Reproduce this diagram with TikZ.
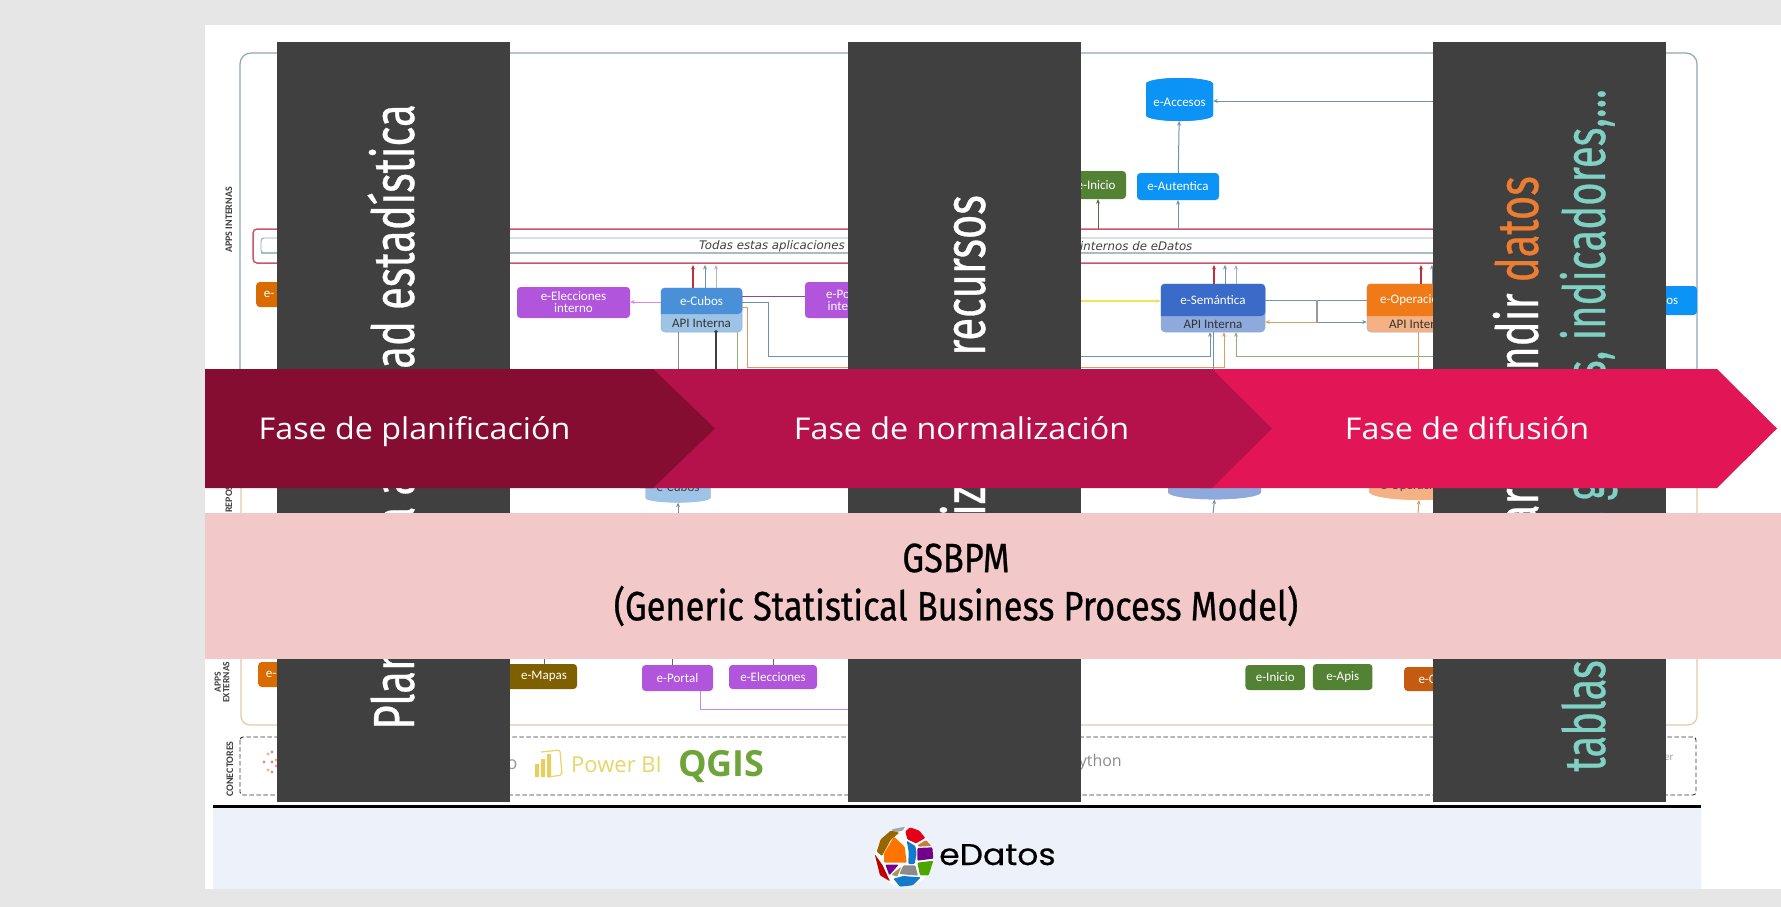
\documentclass[tikz,border=0pt]{standalone}
\usepackage{fontspec}
\usetikzlibrary{arrows.meta,shapes.geometric,calc}
\setmainfont{Carlito}
\newfontfamily\condf[FakeStretch=0.72,FakeBold=0.5]{Fira Sans}
\newfontfamily\tealf[FakeStretch=0.69,FakeBold=0.5]{Fira Sans}
\newfontfamily\bannerf[FakeStretch=0.84,FakeBold=0.6]{Fira Sans}
\newfontfamily\arrowf[FakeStretch=1.075]{Open Sans}
\newfontfamily\obliquef{DejaVu Sans}
\newfontfamily\logof[FakeStretch=1.1,FakeBold=0.4]{Poppins}
\newfontfamily\connf{Open Sans}
\newcommand{\fsz}[1]{\fontsize{#1}{#1}\selectfont}
\definecolor{pagegray}{HTML}{E6E6E6}
\definecolor{darkbar}{HTML}{404040}
\definecolor{frameblue}{HTML}{8CA6B8}
\definecolor{frameorange}{HTML}{E3C9A6}
\definecolor{redframe}{HTML}{C9566A}
\definecolor{innerline}{HTML}{8FAAB8}
\definecolor{innerthick}{HTML}{B3C8CC}
\definecolor{purplebox}{HTML}{B055DC}
\definecolor{skyblue}{HTML}{0B93F6}
\definecolor{greenbox}{HTML}{548235}
\definecolor{brownbox}{HTML}{7F6000}
\definecolor{orangebox}{HTML}{D96B00}
\definecolor{orangebox2}{HTML}{C55A11}
\definecolor{cubotop}{HTML}{4A90D9}
\definecolor{cubolow}{HTML}{9DC3E6}
\definecolor{semtop}{HTML}{3A6BC9}
\definecolor{semlow}{HTML}{8EA9DB}
\definecolor{optop}{HTML}{F07A18}
\definecolor{oplow}{HTML}{F4B183}
\definecolor{steel}{HTML}{6F93AD}
\definecolor{tan}{HTML}{D9A066}
\definecolor{olive}{HTML}{8FAE7A}
\definecolor{redarrow}{HTML}{C0303A}
\definecolor{pinkline}{HTML}{D98ADF}
\definecolor{yellowline}{HTML}{F2E25A}
\definecolor{palegray}{HTML}{B9B3B8}
\definecolor{slidefoot}{HTML}{EDF1F9}
\definecolor{arrowa}{HTML}{850D32}
\definecolor{arrowb}{HTML}{B5114A}
\definecolor{arrowc}{HTML}{E21556}
\definecolor{bannerpink}{HTML}{F2C8C8}
\definecolor{datosorange}{HTML}{ED7D31}
\definecolor{tealtext}{HTML}{7FD1C4}
\definecolor{powerbi}{HTML}{E8D56A}
\definecolor{qgisgreen}{HTML}{6FA43A}
\tikzset{
  appbox/.style={rectangle,rounded corners=3.5pt,inner sep=0pt,text=white,font=\fsz{13},align=center},
  apifill/.style={rectangle,rounded corners=4pt,inner sep=0pt,draw=steel!70,line width=0.5pt},
  whitetext/.style={inner sep=0pt,text=white,font=\fsz{13}},
  apitext/.style={inner sep=0pt,text=black!80,font=\fsz{13}},
  repotext/.style={inner sep=0pt,text=black!75,font=\fsz{13}},
  conn/.style={line width=1pt,-{Stealth[length=4.5pt,width=4pt]}},
  plainconn/.style={line width=1pt},
  sidelabel/.style={inner sep=0pt,rotate=90,text=black!75,font=\bfseries\fsz{10},align=center},
  darkbarbox/.style={rectangle,fill=darkbar,inner sep=0pt,minimum width=233,minimum height=760},
  barline/.style={inner sep=0pt,rotate=90,anchor=base east,text=white,font=\condf\fsz{58}},
  phase/.style={inner sep=0pt,anchor=base,text=white,font=\arrowf\fsz{30}},
  drum/.style={cylinder,shape border rotate=90,aspect=0.22,cylinder uses custom fill,inner sep=0pt},
}
\newcommand{\apibox}[9]{% name, cx, w, top, split, bottom, topcol, lowcol, label
  \pgfmathsetmacro{\bxh}{#6-#4}
  \pgfmathsetmacro{\bxc}{(#4+#6)/2}
  \pgfmathsetmacro{\bxa}{(#4+#5)/2}
  \pgfmathsetmacro{\bxb}{(#5+#6)/2}
  \node[apifill,fill=#8,minimum width=#3,minimum height=\bxh] (#1) at (#2,\bxc) {};
  \coordinate (#1split) at (#2,#5);
  \fill[#7,rounded corners=4pt] (#1.west |- #1split) -- (#1.north west) -- (#1.north east) -- (#1.east |- #1split) [sharp corners] -- cycle;
  \node[whitetext] (#1name) at (#2,\bxa) {#9};
  \node[apitext] (#1api) at (#2,\bxb) {API Interna};
}
\begin{document}
\begin{tikzpicture}[x=1pt,y=-1pt]
\useasboundingbox (0,0) rectangle (1781,907);
\fill[pagegray] (0,0) rectangle (1781,907);
\fill[white] (205,25) rectangle (1781,889);
\fill[slidefoot] (213,808) rectangle (1701,889);

% frames
\draw[frameorange,line width=1.2pt,rounded corners=9pt] (241,450) rectangle (1697,725);
\draw[frameblue,line width=1.2pt,rounded corners=11pt] (240,53) rectangle (1697,440);
\draw[redframe,line width=1.5pt,rounded corners=4pt] (253,229) rectangle (1500,263);
\draw[innerthick,line width=2.2pt,rounded corners=2pt] (261,253) -- (1500,253);
\draw[innerline,line width=0.9pt,rounded corners=3pt] (261,238) rectangle (1500,253);
\node[inner sep=0pt,anchor=east,font=\obliquef\itshape\fsz{11.8},text=black!75] (todas) at (845,246.5) {Todas estas aplicaciones};
\node[inner sep=0pt,anchor=west,font=\obliquef\itshape\fsz{11.8},text=black!75] (internos) at (1080,246.5) {internos de eDatos};

% side labels
\node[sidelabel] (lblint) at (229,220) {APPS INTERNAS};
\node[sidelabel,anchor=west] (lblrep) at (229,513) {REPOSITORIOS};
\node[sidelabel,anchor=west,font=\bfseries\fsz{9.5}] (lblext) at (222,703) {APPS\\[-1pt]EXTERNAS};
\node[sidelabel] (lblcon) at (230,769) {CONECTORES};

% top apps
\node[drum,fill=skyblue,cylinder body fill=skyblue,cylinder end fill=skyblue!85!black,minimum width=67,minimum height=43,whitetext] (accesos) at (1179.5,102.5) {e-Accesos};
\node[appbox,fill=skyblue,minimum width=82,minimum height=27] (autentica) at (1178,186.5) {e-Autentica};
\node[appbox,fill=greenbox,minimum width=60,minimum height=28] (inicioint) at (1096,185) {e-Inicio};
\node[appbox,fill=skyblue,minimum width=90,minimum height=29] (accesosb) at (1652,300.5) {e-Accesos};
\node[appbox,fill=orangebox,minimum width=60,minimum height=25,anchor=west] (leftorange) at (256,294.5) {\hspace*{-34pt}e-};
\node[appbox,fill=purplebox,minimum width=113,minimum height=31] (eleccint) at (573.5,302.5) {e-Elecciones\\[-1pt]interno};
\node[appbox,fill=purplebox,minimum width=84,minimum height=36] (portalint) at (847,300) {e-Portal\\[-1pt]interno};

\apibox{cubos}{701.5}{81}{288}{314}{332}{cubotop}{cubolow}{e-Cubos}
\apibox{sem}{1213}{104}{284}{316}{332}{semtop}{semlow}{e-Semántica}
\apibox{oper}{1418.5}{103}{284}{316}{332}{optop}{oplow}{e-Operaciones}

% free ends
\coordinate (fromright) at (1440,101);
\coordinate (xa) at (693,265);
\coordinate (xb) at (705,265);
\coordinate (xc) at (716,265);
\coordinate (sa) at (1214,265);
\coordinate (sb) at (1225,265);
\coordinate (sc) at (1236,265);
\coordinate (oa) at (1421,265);
\coordinate (ob) at (1432,265);

% connectors app layer
\draw[conn,steel] (fromright) -- (fromright -| accesos.east);
\draw[conn,steel] (autentica) -- (accesos);
\coordinate (redb) at (1178,229);
\draw[conn,steel] (redb) -- (autentica.south);
\coordinate (redc) at (1098,229);
\draw[conn,olive!60!black] (redc) -- (redc |- inicioint.south);
\draw[conn,redarrow,line width=1.3pt] (xa |- cubos.north) -- (xa);
\draw[conn,steel] (xb |- cubos.north) -- (xb);
\draw[conn,palegray] (xc |- cubos.north) -- (xc);
\draw[conn,redarrow,line width=1.3pt] (sa |- sem.north) -- (sa);
\draw[conn,steel] (sb |- sem.north) -- (sb);
\draw[conn,steel!70] (sc |- sem.north) -- (sc);
\draw[conn,redarrow,line width=1.3pt] (oa |- oper.north) -- (oa);
\draw[conn,steel] (ob |- oper.north) -- (ob);

\coordinate (cw) at (661,302);
\draw[conn,pinkline] (cw) -- (cw -| eleccint.east);
\coordinate (cp) at (742,296);
\draw[plainconn,purplebox!60!darkbar] (cp) -- (cp -| portalint.west);
\coordinate (cs) at (742,302);
\coordinate (cs1) at (768,356);
\coordinate (cs2) at (1210,356);
\draw[conn,steel] (cs) -| (cs1) -- (cs2) -- (cs2 |- sem.south);
\coordinate (co) at (742,307);
\coordinate (co1) at (747,367);
\coordinate (co2) at (1224,367);
\draw[conn,tan] (co) -| (co1) -- (co2) -- (co2 |- sem.south);
\coordinate (cy) at (848,301);
\draw[conn,yellowline,line width=1.5pt] (cy) -- (cy -| sem.west);
\coordinate (gr) at (1433,356);
\coordinate (gr1) at (1236,356);
\draw[conn,olive] (gr) -- (gr1) -- (gr1 |- sem.south);
\coordinate (vs) at (1213,375);
\draw[plainconn,steel] (vs) -- (vs |- sem.south);
\coordinate (v1) at (678,375);
\draw[plainconn,black!45] (v1) -- (v1 |- cubos.south);
\coordinate (v2) at (716,375);
\coordinate (v2t) at (716,330);
\draw[line width=1.1pt,black!75,{Circle[length=3.5pt]}-] (v2t) -- (v2);
\coordinate (v3) at (737,375);
\draw[plainconn,olive] (v3) -- (v3 |- cubos.south);
\coordinate (v4) at (1418,375);
\draw[plainconn,tan] (v4) -- (v4 |- oper.south);
\coordinate (mid) at (1317,300);
\coordinate (midb) at (1317,322);
\draw[plainconn,steel] (sem.east |- mid) -- (oper.west |- mid);
\draw[line width=1.3pt,steel!60!tan] (mid) -- (midb);
\draw[conn,tan] (midb) -- (midb -| sem.east);
\draw[conn,steel] (midb) -- (midb -| oper.west);

% repositories (lower part is what shows)
\node[drum,fill=cubolow,cylinder body fill=cubolow,cylinder end fill=cubolow,minimum width=65,minimum height=36,repotext] (repocubos) at (678,487) {e-Cubos};
\node[drum,fill=semlow,cylinder body fill=semlow,cylinder end fill=semlow,minimum width=93,minimum height=40,repotext] (reposem) at (1214.5,483) {\phantom{e-Semántica}};
\node[drum,fill=oplow,cylinder body fill=oplow,cylinder end fill=oplow,minimum width=100,minimum height=32,repotext] (repoop) at (1419,486) {e-Operaciones};
\coordinate (ra) at (678,514);
\coordinate (rb) at (1213,514);
\coordinate (rc) at (1418,514);
\draw[conn,steel] (ra) -- (repocubos.south);
\draw[conn,steel] (rb) -- (reposem.south);
\draw[conn,tan] (rc) -- (repoop.south);

% external apps
\node[appbox,fill=orangebox,minimum width=60,minimum height=25,anchor=west] (extorange) at (258,674.5) {\hspace*{-34pt}e-};
\node[appbox,fill=brownbox,minimum width=76,minimum height=25] (mapas) at (539,676.5) {\hspace*{10pt}e-Mapas};
\node[appbox,fill=purplebox,minimum width=71,minimum height=26] (portal) at (677.5,678) {e-Portal};
\node[appbox,fill=purplebox,minimum width=88,minimum height=24] (elecc) at (773,677) {e-Elecciones};
\node[appbox,fill=greenbox,minimum width=59.5,minimum height=25] (inicio) at (1275.2,677.5) {e-Inicio};
\node[appbox,fill=greenbox,minimum width=59.5,minimum height=26] (apis) at (1342.7,677) {e-Apis};
\node[appbox,fill=orangebox2,minimum width=70,minimum height=24,anchor=west] (exto2) at (1404,679) {\hspace*{-24pt}e-C};
\coordinate (u1) at (544,655);
\coordinate (u2) at (672,655);
\coordinate (u3) at (773,655);
\draw[plainconn,black!60] (u1) -- (u1 |- mapas.north);
\draw[plainconn,black!60] (u2) -- (u2 |- portal.north);
\draw[plainconn,black!60] (u3) -- (u3 |- elecc.north);
\coordinate (pd) at (700,709);
\coordinate (pe) at (860,709);
\draw[plainconn,purplebox!70] (pd |- portal.south) -- (pd) -- (pe);

% connectors band
\draw[black!80,line width=0.9pt,dash pattern=on 4.5pt off 2.5pt,rounded corners=3pt] (240,737) rectangle (1696,795);
\foreach \dx/\dy/\dc in {264/762/red!50,268/754/orange!60,268/770/orange!60,272/762/purple!50,272/752/blue!40,272/772/red!50,276/760/orange!60,276/766/red!40}{
  \fill[\dc] (\dx,\dy) circle (1.6pt);}
\node[inner sep=0pt,text=black!40,font=\connf\fsz{18}] (tailo) at (512,765) {o};
\draw[powerbi,line width=1.2pt,rounded corners=2pt] (541,752) -- (560,750) -- (562,775) -- (548,777);
\fill[powerbi!90!orange] (535,764) rectangle (539,777) (541,759) rectangle (545,777) (547,754) rectangle (551,777);
\node[inner sep=0pt,text=powerbi,font=\connf\fsz{22},anchor=west] (pbi) at (571,765) {Power BI};
\node[inner sep=0pt,text=qgisgreen,font=\connf\bfseries\fsz{36},anchor=west] (qgis) at (678,766) {QGIS};
\node[inner sep=0pt,text=black!45,font=\connf\fsz{16},anchor=base east] (python) at (1122,766) {Python};
\node[inner sep=0pt,text=black!35,font=\fsz{11},anchor=west] (tailr) at (1664,758) {er};

% foot
\draw[black,line width=3pt] (213,806.5) -- (1701,806.5);
\begin{scope}[shift={(860,810)},x=0.3333pt,y=-0.3333pt]
  \fill[white] (132,142) circle (29pt);
  \begin{scope}[rounded corners=1pt]
  \fill[black!35] (95,58) -- (135,50) -- (128,62) -- (100,68) -- cycle;
  \fill[brownbox!80!orange] (50,125) -- (62,88) -- (92,62) -- (118,68) -- (92,90) -- (66,138) -- cycle;
  \fill[red!60!purple] (136,64) -- (150,52) -- (178,62) -- (196,84) -- (168,100) -- (142,88) -- cycle;
  \fill[brown] (172,106) -- (198,90) -- (214,108) -- (176,110) -- cycle;
  \fill[orange!90!red] (102,80) -- (134,110) -- (140,158) -- (72,158) -- (72,130) -- cycle;
  \fill[cyan!60!blue] (140,92) -- (166,108) -- (170,130) -- (164,162) -- (145,162) -- (146,125) -- cycle;
  \fill[purple!60!blue] (172,114) -- (217,112) -- (220,146) -- (172,152) -- cycle;
  \fill[green!50!black!70!yellow] (172,158) -- (220,152) -- (206,196) -- (180,196) -- cycle;
  \fill[black!45] (130,166) -- (166,166) -- (174,197) -- (118,192) -- cycle;
  \fill[cyan!60!blue] (100,206) -- (130,198) -- (182,202) -- (158,226) -- (120,230) -- cycle;
  \fill[red!75!black] (44,132) -- (68,166) -- (90,214) -- (60,196) -- cycle;
  \fill[purple!60!blue] (76,164) -- (116,164) -- (88,196) -- cycle;
  \fill[olive!50!brown] (94,194) -- (124,170) -- (112,200) -- cycle;
  \end{scope}
\end{scope}
\node[inner sep=0pt,anchor=base west,font=\logof\fsz{30}] (edatos) at (939,865) {eDatos};

% dark columns
\node[darkbarbox] (bara) at (393.5,422) {};
\node[darkbarbox] (barb) at (964.5,422) {};
\node[darkbarbox] (barc) at (1549.5,422) {};
\node[barline] (txta) at (414,104) {Planificar la actividad estadística};
\node[barline] (txtb) at (985,195) {Normalizar\hspace{7pt} los\hspace{7pt} recursos};
\node[barline] (txtc) at (1538,176) {Compilar y difundir \textcolor{datosorange}{datos}};
\node[barline,text=tealtext,font=\tealf\fsz{58}] (txtd) at (1605,89) {tablas, mapas, gráficos, indicadores,...};

% phase arrows
\fill[arrowc] (1200,369) -- (1717,369) -- (1777,428.5) -- (1717,488) -- (1200,488) -- cycle;
\fill[arrowb] (640,369) -- (1212,369) -- (1272,428.5) -- (1212,488) -- (640,488) -- cycle;
\fill[arrowa] (205,369) -- (653,369) -- (715,428.5) -- (653,488) -- (205,488) -- cycle;
\node[phase] (fasea) at (414.5,439) {Fase de planificación};
\node[phase] (faseb) at (961.5,439) {Fase de normalización};
\node[phase] (fasec) at (1467,439) {Fase de difusión};

% banner
\fill[bannerpink] (205,513) rectangle (1781,659);
\node[inner sep=0pt,font=\bannerf\fsz{41}] (gsbpm) at (956,558) {GSBPM};
\node[inner sep=0pt,font=\bannerf\fsz{41}] (gsbpmb) at (956,606) {(Generic Statistical Business Process Model)};
\end{tikzpicture}
\end{document}
